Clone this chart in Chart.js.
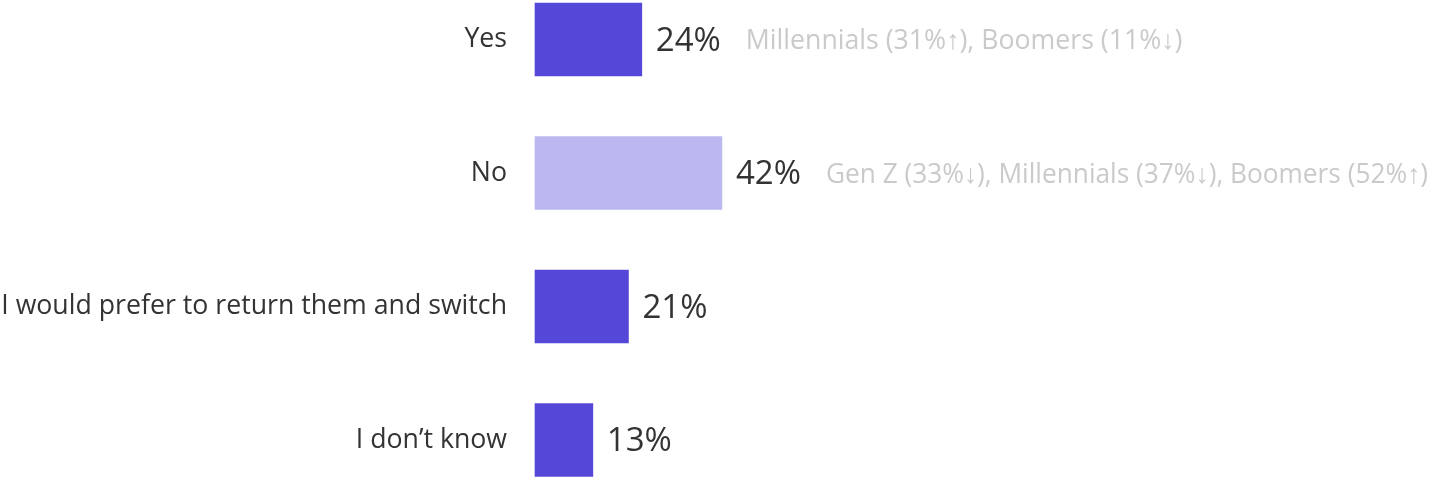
<!DOCTYPE html>
<html>
<head>
<meta charset="utf-8">
<script src="https://cdn.jsdelivr.net/npm/chart.js@4"></script>
<style>
  html, body { margin: 0; padding: 0; background: #fff; }
  #wrap { width: 1430px; height: 477px; position: relative; }
</style>
</head>
<body>
<div id="wrap"><canvas id="answers"></canvas></div>
<script>
const categories = ['Yes', 'No', 'I would prefer to return them and switch', 'I don\u2019t know'];
const values = [24, 42, 21, 13];
const notes = [
	'Millennials (31%\u2191), Boomers (11%\u2193)',
	'Gen Z (33%\u2193), Millennials (37%\u2193), Boomers (52%\u2191)',
	'',
	''
];
const barColors = ['#5548d8', '#bbb7ef', '#5548d8', '#5548d8'];

const FONT = '"Open Sans", "Noto Sans", Roboto, "DejaVu Sans", sans-serif';
// Open Sans has no arrows, take the slim ones from Liberation Sans
const NOTE_FONT = '"Open Sans", "Liberation Sans", "DejaVu Sans", sans-serif';

// value + generation breakdown printed to the right of each bar
const barLabels = {
	id: 'barLabels',
	afterDatasetsDraw(chart) {
		const ctx = chart.ctx;
		const meta = chart.getDatasetMeta(0);
		ctx.save();
		ctx.textBaseline = 'middle';
		ctx.textAlign = 'left';
		meta.data.forEach((bar, i) => {
			let x = bar.x + 14;
			const y = bar.y + 2;
			ctx.font = '33px ' + FONT;
			ctx.fillStyle = '#333333';
			const txt = values[i] + '%';
			ctx.fillText(txt, x, y);
			x += ctx.measureText(txt).width + 25;
			if (notes[i]) {
				ctx.font = '26.7px ' + NOTE_FONT;
				ctx.fillStyle = '#cacaca';
				ctx.fillText(notes[i], x, y, chart.width - x - 2);
			}
		});
		ctx.restore();
	}
};

new Chart(document.getElementById('answers'), {
	type: 'bar',
	data: {
		labels: categories,
		datasets: [{
			data: values,
			backgroundColor: barColors,
			barThickness: 73,
			clip: false
		}]
	},
	options: {
		indexAxis: 'y',
		responsive: true,
		maintainAspectRatio: false,
		animation: false,
		layout: { padding: { top: 39.5, bottom: 37, right: 450, left: 0 } },
		plugins: {
			legend: { display: false },
			tooltip: { enabled: false }
		},
		scales: {
			x: { display: false, min: 0, max: 100 },
			y: {
				offset: false,
				grid: { display: false, drawTicks: false },
				border: { display: false },
				ticks: {
					padding: 28,
					color: '#333333',
					font: { family: FONT, size: 26.7 }
				},
				afterFit(scale) {
					scale.width = 535;
					// labels sit beside the bars, no extra room above/below
					scale.paddingTop = 0;
					scale.paddingBottom = 0;
				}
			}
		}
	},
	plugins: [barLabels]
});
</script>
</body>
</html>
